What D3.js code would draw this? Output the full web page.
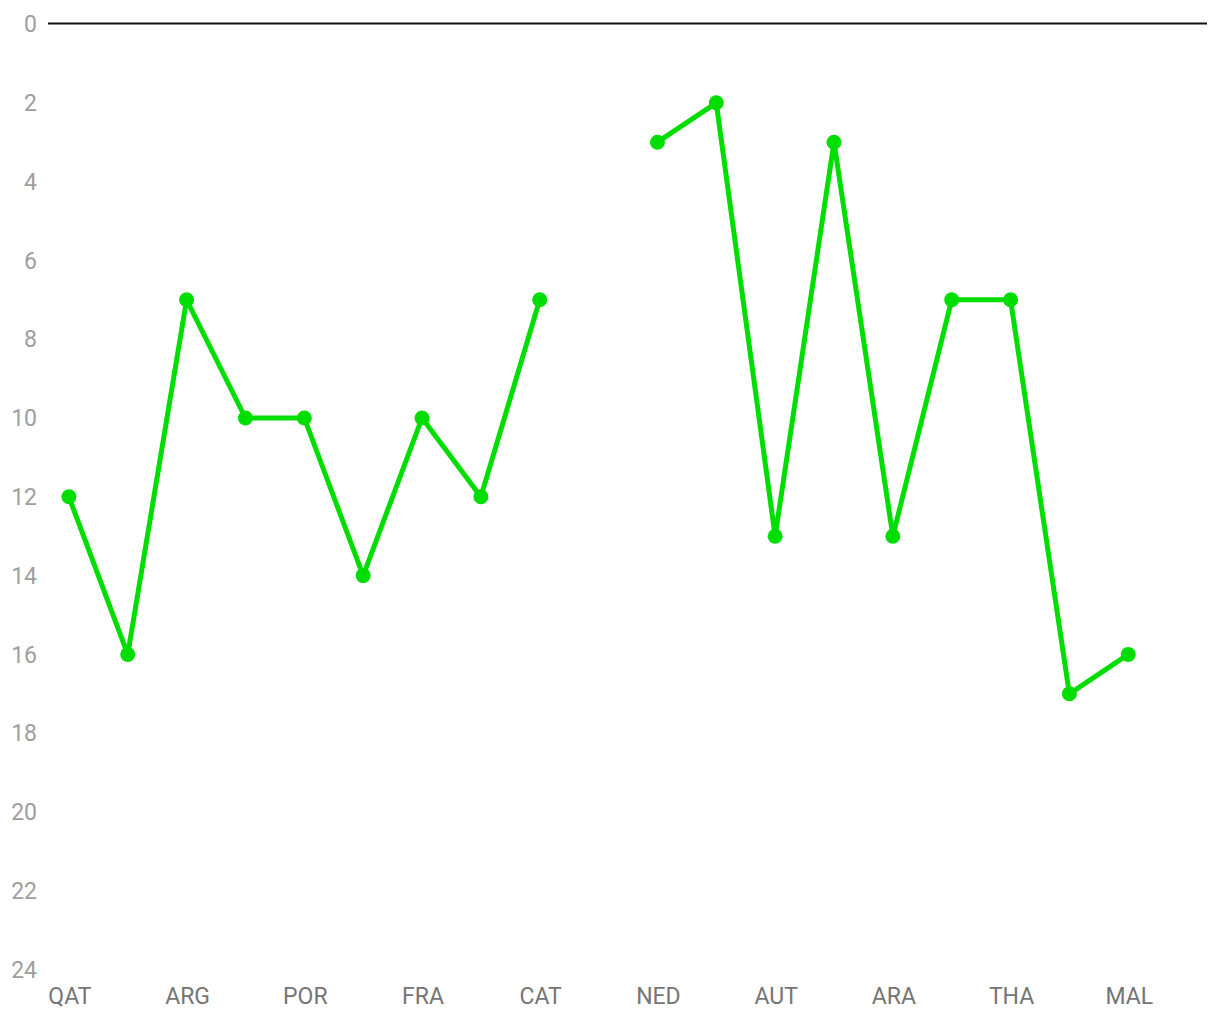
<!DOCTYPE html>
<html><head><meta charset="utf-8">
<script src="https://cdn.jsdelivr.net/npm/d3@7"></script>
<style>body{margin:0;background:#fff}svg{display:block}text{font-family:Roboto,"Open Sans",sans-serif}</style>
</head><body><svg id="c" width="1220" height="1020"></svg>
<script>
const categories = ["QAT","INA","ARG","AME","POR","SPA","FRA","ITA","CAT","GER","NED","GBR","AUT","RSM","ARA","JPN","THA","AUS","MAL","VAL"];
const shownLabels = ["QAT","ARG","POR","FRA","CAT","NED","AUT","ARA","THA","MAL"];
const positions = [12,16,7,10,10,14,10,12,7,null,3,2,13,3,13,7,7,17,16,null];
const yTicks = [0,2,4,6,8,10,12,14,16,18,20,22,24];

const svg = d3.select("#c");
const x = d3.scalePoint().domain(categories).range([48,1208]).padding(0.355);
const y = d3.scaleLinear().domain([0,24]).range([24,969.6]);

// y axis labels
svg.append("g").selectAll("text").data(yTicks).join("text")
  .attr("x",37).attr("y",d=>y(d)).attr("dy","0.36em").attr("text-anchor","end")
  .attr("fill","#9e9e9e").attr("font-size",23).text(d=>d);

// x axis labels
svg.append("g").selectAll("text").data(shownLabels).join("text")
  .attr("x",d=>x(d)+1).attr("y",996).attr("dy","0.36em").attr("text-anchor","middle")
  .attr("fill","#757575").attr("font-size",23).text(d=>d);

// zero line
svg.append("line").attr("x1",48).attr("x2",1207).attr("y1",23.5).attr("y2",23.5)
  .attr("stroke","#111").attr("stroke-width",2);

const data = categories.map((c,i)=>({c,v:positions[i]}));
const line = d3.line().defined(d=>d.v!=null).x(d=>x(d.c)).y(d=>y(d.v));
svg.append("path").datum(data).attr("d",line).attr("fill","none")
  .attr("stroke","#00dd00").attr("stroke-width",5).attr("stroke-linejoin","round");
svg.append("g").selectAll("circle").data(data.filter(d=>d.v!=null)).join("circle")
  .attr("cx",d=>x(d.c)).attr("cy",d=>y(d.v)).attr("r",7.5).attr("fill","#00dd00");
</script></body></html>
